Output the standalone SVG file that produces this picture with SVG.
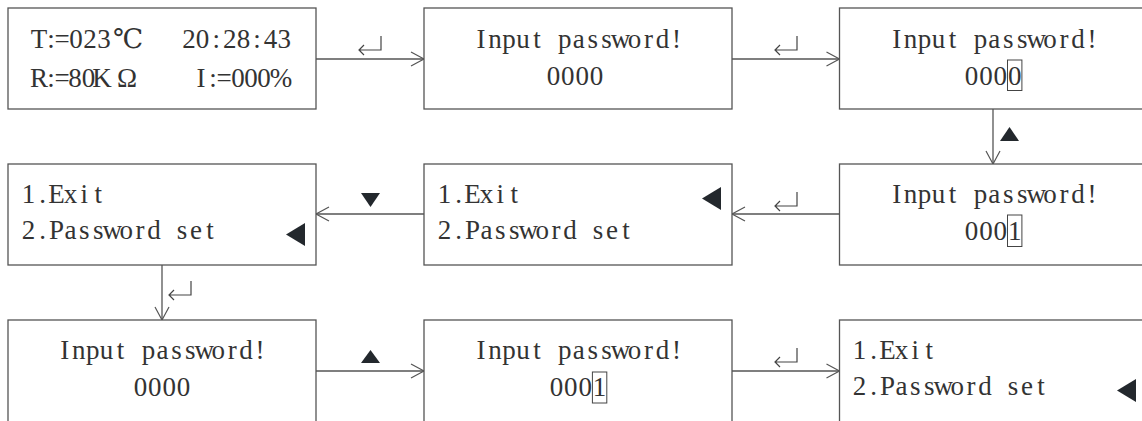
<svg xmlns="http://www.w3.org/2000/svg" width="1142" height="421" viewBox="0 0 1142 421">
<defs>
<style>
.box{fill:#fff;stroke:#555;stroke-width:1.3}
.t{font-family:"Liberation Serif","DejaVu Serif","Noto Sans CJK SC",serif;font-size:27px;fill:#333;text-anchor:middle}
.con{fill:none;stroke:#555;stroke-width:1.3}
.cur{fill:none;stroke:#444;stroke-width:1}
.tri{fill:#23282d}
.ent{fill:none;stroke:#444;stroke-width:1.2}
</style>
<marker id="ah" markerUnits="userSpaceOnUse" markerWidth="16" markerHeight="16" refX="14" refY="8" orient="auto" viewBox="0 0 16 16">
<path d="M1,1 L14,8 L1,15" fill="none" stroke="#555" stroke-width="1.2"/>
</marker>
<path id="enter" class="ent" d="M22,0 V14 H0 M5,9 L0,14 L5,19"/>
</defs>
<rect width="1142" height="421" fill="#fff"/>

<g id="connectors">
<path class="con" d="M316,59 H424" marker-end="url(#ah)"/>
<path class="con" d="M732,59 H839.5" marker-end="url(#ah)"/>
<path class="con" d="M993,109 V164" marker-end="url(#ah)"/>
<path class="con" d="M839.5,214 H732" marker-end="url(#ah)"/>
<path class="con" d="M424,214 H316" marker-end="url(#ah)"/>
<path class="con" d="M162,265 V320" marker-end="url(#ah)"/>
<path class="con" d="M316,371 H424" marker-end="url(#ah)"/>
<path class="con" d="M732,371 H839.5" marker-end="url(#ah)"/>
<use href="#enter" x="359" y="36"/>
<use href="#enter" x="775" y="36"/>
<polygon class="tri" points="1000,141 1019,141 1009.5,127"/>
<use href="#enter" x="775" y="192"/>
<polygon class="tri" points="361,193 380,193 370.5,207"/>
<use href="#enter" x="169" y="281"/>
<polygon class="tri" points="361,363 380,363 370.5,350"/>
<use href="#enter" x="775" y="348"/>
</g>

<g id="node-status">
<rect class="box" x="8" y="8" width="308" height="101"/>
<text class="t" x="39 51 62 76 90 104 128" y="48">T:=023℃</text>
<text class="t" x="189 202.6 216.2 229.8 243.4 257 270.6 284.2" y="48">20:28:43</text>
<text class="t" x="39 51 62 75 88.5 102 127" y="87">R:=80KΩ</text>
<text class="t" x="201 213 224 238 251 264 281" y="87">I:=000%</text>
</g>

<g id="node-pw1">
<rect class="box" x="424" y="8" width="308" height="101"/>
<text class="t" x="481.1 495 509 522.9 536.9 550.8 564.8 578.7 592.7 606.6 620.6 634.5 648.5 662.4 676.4" y="48">Input password!</text>
<text class="t" x="553.4 567.8 582.2 596.6" y="85">0000</text>
</g>

<g id="node-pw2">
<rect class="box" x="839.5" y="8" width="308" height="101"/>
<text class="t" x="896.7 910.6 924.6 938.5 952.5 966.4 980.4 994.3 1008.3 1022.2 1036.2 1050.1 1064.1 1078 1092" y="48">Input password!</text>
<text class="t" x="971.5 985.9 1000.3 1014.7" y="85">0000</text>
<rect class="cur" x="1007.5" y="60" width="14.4" height="30.5"/>
</g>

<g id="node-pw3">
<rect class="box" x="839.5" y="164" width="308" height="101"/>
<text class="t" x="896.7 910.6 924.6 938.5 952.5 966.4 980.4 994.3 1008.3 1022.2 1036.2 1050.1 1064.1 1078 1092" y="203">Input password!</text>
<text class="t" x="971.5 985.9 1000.3 1014.7" y="240">0001</text>
<rect class="cur" x="1007.5" y="215" width="14.4" height="31.5"/>
</g>

<g id="node-menu1">
<rect class="box" x="424" y="164" width="308" height="101"/>
<text class="t" x="444.5 458.5 472.4 486.4 500.3 514.3" y="203">1.Exit</text>
<text class="t" x="444.5 458.5 472.4 486.4 500.3 514.3 528.2 542.2 556.1 570.1 584 598 611.9 625.9" y="239">2.Password set</text>
<polygon class="tri" points="721,187 721,210 702,198.5"/>
</g>

<g id="node-menu2">
<rect class="box" x="8" y="164" width="308" height="101"/>
<text class="t" x="28.5 42.5 56.4 70.4 84.3 98.3" y="203">1.Exit</text>
<text class="t" x="28.5 42.5 56.4 70.4 84.3 98.3 112.2 126.2 140.1 154.1 168 182 195.9 209.9" y="239">2.Password set</text>
<polygon class="tri" points="305,223 305,246 286,234.5"/>
</g>

<g id="node-pw4">
<rect class="box" x="8" y="320" width="308" height="120"/>
<text class="t" x="64.8 78.7 92.7 106.6 120.6 134.5 148.5 162.4 176.4 190.3 204.3 218.2 232.2 246.1 260.1" y="359">Input password!</text>
<text class="t" x="140.4 154.8 169.2 183.6" y="396">0000</text>
</g>

<g id="node-pw5">
<rect class="box" x="424" y="320" width="308" height="120"/>
<text class="t" x="481.1 495 509 522.9 536.9 550.8 564.8 578.7 592.7 606.6 620.6 634.5 648.5 662.4 676.4" y="359">Input password!</text>
<text class="t" x="556.4 570.8 585.2 599.6" y="396">0001</text>
<rect class="cur" x="592.4" y="372" width="14.4" height="31"/>
</g>

<g id="node-menu3">
<rect class="box" x="839.5" y="320" width="308" height="120"/>
<text class="t" x="859.5 873.5 887.4 901.4 915.3 929.3" y="359">1.Exit</text>
<text class="t" x="859.5 873.5 887.4 901.4 915.3 929.3 943.2 957.2 971.1 985.1 999 1013 1026.9 1040.9" y="395">2.Password set</text>
<polygon class="tri" points="1136,379 1136,402 1117,390.5"/>
</g>
</svg>
